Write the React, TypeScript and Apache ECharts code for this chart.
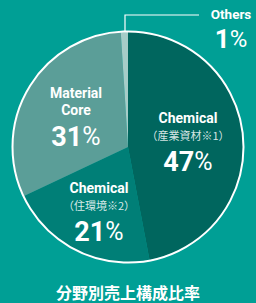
import React, { useEffect, useRef } from "react";
import * as echarts from "echarts";

const names = ["Chemical", "Chemical", "Material Core", "Others"];
const subs = ["（産業資材※1）", "（住環境※2）", "", ""];
const values = [47, 21, 31, 1];
const title = "分野別売上構成比率";

const colors = ["#00665e", "#007f77", "#5b9e98", "#a6cdc8"];
const labelPos: [number, number][] = [
  [188, 144.5],
  [99, 214.5],
  [76, 119.5],
  [231, 28],
];

const FONT = "Roboto, 'Noto Sans CJK JP', sans-serif";

export default function App() {
  const ref = useRef<HTMLDivElement>(null);
  useEffect(() => {
    document.body.style.margin = "0";
    const chart = echarts.init(ref.current!, undefined, { renderer: "svg" });
    const data = values.map((v, i) => {
      const isOthers = names[i] === "Others";
      return {
        value: v,
        name: names[i],
        itemStyle: { color: colors[i] },
        label: isOthers
          ? {
              show: true,
              position: "outside" as const,
              formatter: `{o|${names[i]}}\n{n2|${v}}{p2|%}`,
            }
          : {
              show: true,
              position: "inside" as const,
              formatter:
                names[i] === "Material Core"
                  ? `{name|Material}\n{name|Core}\n{n|${v}}{p|%}`
                  : `{name|${names[i]}}\n{sub|${subs[i]}}\n{n|${v}}{p|%}`,
            },
        labelLine: isOthers
          ? { show: true, lineStyle: { color: "#ffffff", width: 1.2 } }
          : { show: false },
      };
    });
    chart.setOption({
      animation: false,
      backgroundColor: "#009f95",
      title: {
        text: title,
        left: "center",
        top: 284,
        padding: 0,
        textStyle: {
          color: "#ffffff",
          fontSize: 16,
          fontWeight: "bold",
          lineHeight: 16,
          fontFamily: "'Noto Sans CJK JP', sans-serif",
        },
      },
      series: [
        {
          type: "pie",
          center: [128, 147],
          radius: 115,
          startAngle: 90,
          clockwise: true,
          silent: true,
          itemStyle: { borderWidth: 0 },
          label: {
            color: "#ffffff",
            align: "center",
            fontFamily: FONT,
            rich: {
              name: {
                color: "#ffffff",
                fontSize: 14,
                fontWeight: "bold",
                lineHeight: 17,
                fontFamily: FONT,
              },
              sub: {
                color: "rgba(255,255,255,0.85)",
                fontSize: 11,
                lineHeight: 17,
                fontFamily: "'Noto Sans CJK JP', sans-serif",
              },
              n: {
                color: "#ffffff",
                fontSize: 27,
                fontWeight: "bold",
                lineHeight: 36,
                fontFamily: FONT,
              },
              p: {
                color: "#ffffff",
                fontSize: 25,
                fontWeight: "normal",
                lineHeight: 36,
                fontFamily: FONT,
              },
              o: {
                color: "#ffffff",
                fontSize: 13.5,
                fontWeight: "bold",
                lineHeight: 22,
                fontFamily: FONT,
              },
              n2: {
                color: "#ffffff",
                fontSize: 26,
                fontWeight: "bold",
                lineHeight: 28,
                fontFamily: FONT,
              },
              p2: {
                color: "#ffffff",
                fontSize: 24,
                fontWeight: "normal",
                lineHeight: 28,
                fontFamily: FONT,
              },
            },
          },
          labelLayout: (params: any) => {
            const i = params.dataIndex;
            const [x, y] = labelPos[i];
            const out: any = { x, y, align: "center", verticalAlign: "middle" };
            if (names[i] === "Others") {
              out.labelLinePoints = [
                [125, 31],
                [125, 15],
                [199, 15],
              ];
            }
            return out;
          },
          data,
        },
      ],
      graphic: [
        {
          type: "circle",
          z: 100,
          silent: true,
          shape: { cx: 128, cy: 147, r: 115.5 },
          style: { fill: "none", stroke: "#ffffff", lineWidth: 2 },
        },
      ],
    });
    return () => chart.dispose();
  }, []);
  return <div ref={ref} style={{ width: 256, height: 303 }} />;
}
